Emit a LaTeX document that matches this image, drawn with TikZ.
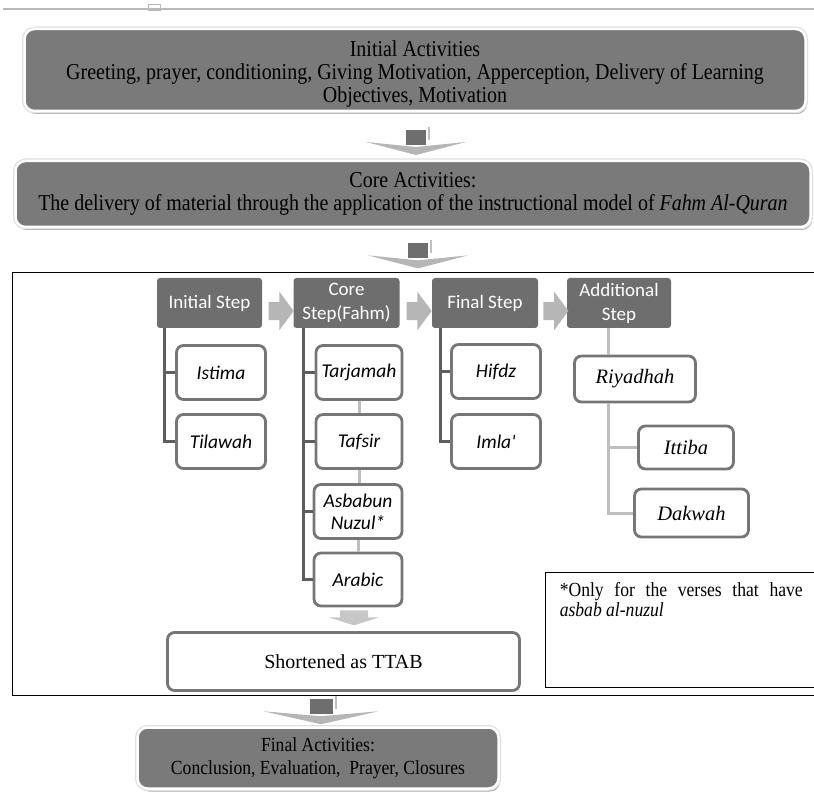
\documentclass[tikz,border=0pt]{standalone}
\usepackage{fontspec}
\setmainfont{Liberation Serif}
\newfontfamily\condserif[FakeStretch=0.88]{Liberation Serif}
\newfontfamily\calibfont{Carlito}
\usetikzlibrary{positioning,shadows,shapes,calc}

\definecolor{actgray}{HTML}{7A7A7A}
\definecolor{headgray}{HTML}{6E6E6E}
\definecolor{rimgray}{HTML}{767676}
\definecolor{spinegray}{HTML}{5E5E5E}
\definecolor{linkgray}{HTML}{BEBEBE}
\definecolor{arrowgray}{HTML}{B6B6B6}

\tikzset {
    act box/.style={
        fill=actgray,
        draw=white,
        line width=2.5pt,
        drop shadow={shadow xshift=1.5pt, shadow yshift=-3pt, fill=black!35, opacity=1},
        preaction={draw=black!12, line width=5pt},
        rounded corners=10pt,
        inner sep=0pt,
        align=center,
        font=\condserif\fontsize{20}{22.5}\selectfont,
    },
    big act/.style={
        font=\condserif\fontsize{22.7}{22.8}\selectfont,
    },
    step head/.style={
        fill=headgray,
        rectangle, % plain header
        rounded corners=3pt,
        text=white,
        minimum width=106pt,
        minimum height=50pt,
        inner sep=0pt,
        align=center,
        font=\calibfont\fontsize{19}{24}\selectfont,
    },
    sub step/.style={
        fill=white,
        draw=rimgray,
        line width=2.8pt,
        rounded corners=7pt,
        text=black,
        minimum width=89pt,
        minimum height=54pt,
        inner sep=0pt,
        align=center,
        font=\calibfont\itshape\fontsize{19.5}{22}\selectfont,
    },
    serif step/.style={
        sub step,
        font=\itshape\fontsize{20.5}{24}\selectfont,
    },
    block arrow/.style={
        single arrow,
        fill=arrowgray,
        minimum height=25pt,
        inner xsep=0pt,
        inner ysep=9pt,
        single arrow head extend=10pt,
        single arrow tip angle=107,
    },
    frame box/.style={draw=black, line width=1pt, minimum width=810pt, minimum height=422pt},
    note box/.style={draw=black, line width=.9pt, fill=white, minimum width=276pt, minimum height=115pt},
    spine/.style={draw=spinegray, line width=3pt},
    link/.style={draw=linkgray, line width=3pt},
    chevron/.pic={
        \fill[arrowgray] (-50,12) -- (0,17) -- (50,12) -- (0,25) -- cycle;
        \fill[headgray] (-10,0) rectangle (10,15);
        \draw[black!25, line width=1.5pt] (13,-3) -- (13,10);
    },
}

\begin{document}
\begin{tikzpicture}[x=1pt, y=-1pt]
    \useasboundingbox (0,0) rectangle (814,794);

    \draw[gray!55, line width=2pt] (3,9) -- (814,9);
    \draw[gray!55, line width=.8pt] (148,4) rectangle (160,10);

    % activities
    \node[act box, minimum width=781pt, minimum height=82pt] (ia) at (415,70) {};
    \node[big act, align=center, inner sep=0pt] (iatext) at ($(ia.center)+(0,4)$)
        {Initial Activities\\Greeting, prayer, conditioning, Giving Motivation, Apperception, Delivery of Learning\\Objectives, Motivation};
    \node[act box, big act, minimum width=795pt, minimum height=66pt] (ca) at (413,194)
        {Core Activities:\\The delivery of material through the application of the instructional model of \textit{Fahm Al-Quran}};

    \node[frame box] (frame) at (417,484) {};

    % steps
    \node[step head, minimum width=105pt] (is) at (209.5,303) {Initial Step};
    \node[step head] (cs) at (346.5,303) {Core\\Step(Fahm)};
    \node[step head] (fs) at (485,303) {Final Step};
    \node[step head, minimum width=104pt] (as) at (619,303) {Additional\\Step};

    \node[block arrow] (ar1) at ($(is.east)!.5!(cs.west)+(0,8)$) {};
    \node[block arrow] (ar2) at ($(cs.east)!.5!(fs.west)+(0,8)$) {};
    \node[block arrow] (ar3) at ($(fs.east)!.5!(as.west)+(0,8)$) {};

    \node[sub step] (istima) at (221,372.5) {Istima};
    \node[sub step] (tilawah) at (221,441.5) {Tilawah};
    \node[sub step, minimum width=86pt] (tarjamah) at (359,372.5) {Tarjamah};
    \node[sub step, minimum width=86pt] (tafsir) at (359,441.5) {Tafsir};
    \node[sub step, minimum width=88pt] (asbabun) at (358,511.5) {Asbabun\\Nuzul*};
    \node[sub step, minimum width=88pt, minimum height=53pt] (arabic) at (358,579.5) {Arabic};
    \node[sub step] (hifdz) at (496,371.5) {Hifdz};
    \node[sub step] (imla) at (496,441.5) {Imla'};
    \node[serif step, minimum width=121pt, minimum height=46pt] (riyadhah) at (635,379) {Riyadhah};
    \node[serif step, minimum width=95pt, minimum height=43pt] (ittiba) at (686,447.5) {Ittiba};
    \node[serif step, minimum width=114pt, minimum height=48pt] (dakwah) at (691.5,513) {Dakwah};

    \node[sub step, font=\fontsize{20}{24}\selectfont, minimum width=352pt, minimum height=58pt] (ttab) at (343.5,661.5) {Shortened as TTAB};

    % connectors
    \draw[spine] ($(is.south west)+(8,0)$) coordinate (isr) |- (tilawah.west);
    \draw[spine] (isr |- istima.west) -- (istima.west);
    \draw[spine] ($(cs.south west)+(10,0)$) coordinate (csr) |- (arabic.west);
    \draw[spine] (csr |- tarjamah.west) -- (tarjamah.west);
    \draw[spine] (csr |- tafsir.west) -- (tafsir.west);
    \draw[spine] (csr |- asbabun.west) -- (asbabun.west);
    \draw[spine] ($(fs.south west)+(9,0)$) coordinate (fsr) |- (imla.west);
    \draw[spine] (fsr |- hifdz.west) -- (hifdz.west);

    \draw[link] (tarjamah.south) -- (tarjamah.south |- tafsir.north);
    \draw[link] (tafsir.south) -- (tafsir.south |- asbabun.north);
    \draw[link] (asbabun.south) -- (asbabun.south |- arabic.north);
    \draw[link] ($(riyadhah.north west)+(35,0)$) coordinate (ryt) -- (ryt |- as.south);
    \draw[link] ($(riyadhah.south west)+(35,0)$) coordinate (ryb) |- (dakwah.west);
    \draw[link] (ryb |- ittiba.west) -- (ittiba.west);

    \fill[black!22] ($(arabic.south)+(-18,3)$) -- ++(28,0) -- ++(0,7) -- ++(11,0)
        -- ($(arabic.south)+(-4,18)$) -- ($(arabic.south)+(-29,10)$) -- ++(11,0) -- cycle;

    % note
    \node[note box] (note) at (683,629.5) {};
    \node[anchor=north west, inner sep=0pt, align=left, font=\condserif\fontsize{20}{18}\selectfont] (notetext)
        at ($(note.north west)+(15,11)$)
        {\hbox to 243pt{*Only\hfil for\hfil the\hfil verses\hfil that\hfil have}\\\textit{asbab al-nuzul}};

    \node[act box, minimum width=361pt, minimum height=61pt] (fa) at (318,758)
        {Final Activities:\\Conclusion, Evaluation,\ \ Prayer, Closures};

    \pic at ($(ia.south)!.5!(ca.north)+(2,-6)$) {chevron};
    \pic at ($(ca.south)!.5!(frame.north)+(3,-7)$) {chevron};
    \pic[xscale=1.15] at ($(fa.north)+(3,-27)$) {chevron};
\end{tikzpicture}
\end{document}
